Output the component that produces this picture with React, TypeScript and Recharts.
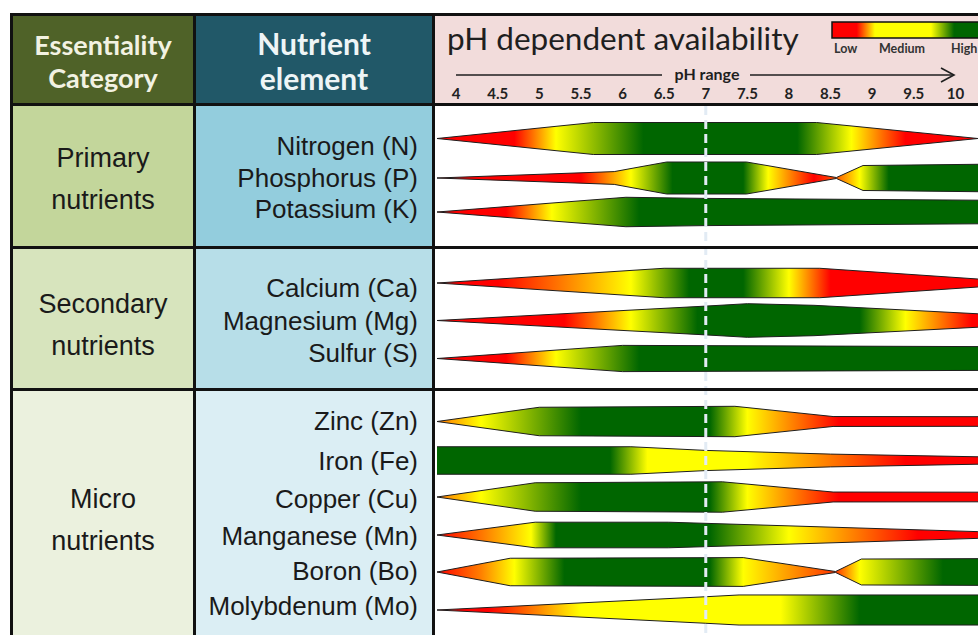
import { ComposedChart, Area, XAxis, YAxis, ReferenceLine } from 'recharts';

const PH_TICKS = [4, 4.5, 5, 5.5, 6, 6.5, 7, 7.5, 8, 8.5, 9, 9.5, 10];
const PH_MIN = 3.77;
const PH_MAX = 10.5;

const GROUPS = [
  ['Primary', 'nutrients'],
  ['Secondary', 'nutrients'],
  ['Micro', 'nutrients'],
];

const NUTRIENTS = [
  'Nitrogen (N)', 'Phosphorus (P)', 'Potassium (K)',
  'Calcium (Ca)', 'Magnesium (Mg)', 'Sulfur (S)',
  'Zinc (Zn)', 'Iron (Fe)', 'Copper (Cu)', 'Manganese (Mn)', 'Boron (Bo)', 'Molybdenum (Mo)',
];

// band thickness along the pH range: [pH, relative thickness]
const N_WIDTH = [[3.77, 0], [5.65, 1], [8.33, 1], [10.27, 0], [10.5, 0]];
const P_WIDTH = [[3.77, 0], [5.9, 0.4], [6.53, 1], [7.49, 1], [8.57, 0.03], [8.89, 0.78], [10.5, 0.87]];
const K_WIDTH = [[3.77, 0], [6.04, 0.92], [7, 0.85], [10.5, 0.73]];
const CA_WIDTH = [[3.77, 0], [6.5, 0.92], [8.37, 0.92], [10.27, 0.25], [10.5, 0.2]];
const MG_WIDTH = [[3.77, 0], [7, 0.9], [7.5, 1.05], [8.3, 0.95], [10.27, 0.42], [10.5, 0.38]];
const S_WIDTH = [[3.77, 0], [6, 0.82], [10.5, 0.74]];
const ZN_WIDTH = [[3.77, 0], [5, 0.89], [7.35, 0.95], [8.53, 0.31], [10.5, 0.3]];
const FE_WIDTH = [[3.77, 0.86], [6.1, 0.86], [7, 0.63], [8.5, 0.4], [10.5, 0.21]];
const CU_WIDTH = [[3.77, 0], [4.95, 0.89], [7.2, 0.95], [8.53, 0.31], [10.5, 0.3]];
const MN_WIDTH = [[3.77, 0], [4.95, 0.8], [6.55, 0.8], [10.27, 0.21], [10.5, 0.19]];
const BO_WIDTH = [[3.77, 0], [4.65, 0.86], [7.45, 0.9], [8.56, 0.03], [8.87, 0.81], [10.5, 0.84]];
const MO_WIDTH = [[3.77, 0], [7, 0.83], [7.4, 0.94], [10.5, 0.94]];

// availability along the pH range: [pH, level] 0 = low, 1 = medium, 2 = high
const N_LEVEL = [[3.77, 0], [4.7, 0], [5.2, 1], [6.25, 2], [8.1, 2], [8.75, 1], [9.4, 0], [10.5, 0]];
const P_LEVEL = [[3.77, 0], [5.5, 0], [6.1, 1], [6.6, 2], [7.45, 2], [7.75, 1], [8.3, 0], [8.57, 0.35], [8.85, 1], [9.2, 2], [10.5, 2]];
const K_LEVEL = [[3.77, 0], [4.6, 0], [5.15, 1], [6.2, 2], [10.5, 2]];
const CA_LEVEL = [[3.77, 0], [4.5, 0], [6.1, 1], [6.8, 2], [7.45, 2], [8, 1], [8.5, 0], [10.5, 0]];
const MG_LEVEL = [[3.77, 0], [5.3, 0], [6.1, 1], [6.9, 2], [8.85, 2], [9.4, 1], [10.2, 0], [10.5, 0]];
const S_LEVEL = [[3.77, 0], [4.6, 0], [5.2, 1], [6.2, 2], [10.5, 2]];
const ZN_LEVEL = [[3.77, 0.45], [4.3, 1], [5.5, 2], [7.05, 2], [7.5, 1], [8.6, 0], [10.5, 0]];
const FE_LEVEL = [[3.77, 2], [5.85, 2], [6.3, 1], [7.5, 1], [9.4, 0], [10.5, 0]];
const CU_LEVEL = [[3.77, 0.45], [4.3, 1], [5.5, 2], [7.05, 2], [7.5, 1], [8.6, 0], [10.5, 0]];
const MN_LEVEL = [[3.77, 0], [4.35, 0.5], [4.9, 1], [5.2, 2], [7.05, 2], [8, 1], [9.55, 0], [10.5, 0]];
const BO_LEVEL = [[3.77, 0], [4.3, 0.5], [4.7, 1], [5.3, 2], [7.05, 2], [7.45, 1], [8.56, 0.2], [8.85, 1], [9.85, 2], [10.5, 2]];
const MO_LEVEL = [[3.77, 0], [4.4, 0], [5.5, 1], [7.9, 1], [8.85, 2], [10.5, 2]];

const LEGEND_LEVEL = [[0, 0], [0.15, 0], [0.26, 1], [0.6, 1], [0.74, 2], [1, 2]];

const WIDTHS = [N_WIDTH, P_WIDTH, K_WIDTH, CA_WIDTH, MG_WIDTH, S_WIDTH, ZN_WIDTH, FE_WIDTH, CU_WIDTH, MN_WIDTH, BO_WIDTH, MO_WIDTH];
const LEVELS = [N_LEVEL, P_LEVEL, K_LEVEL, CA_LEVEL, MG_LEVEL, S_LEVEL, ZN_LEVEL, FE_LEVEL, CU_LEVEL, MN_LEVEL, BO_LEVEL, MO_LEVEL];

// layout (page px)
const BODY_TOP = 106;
const AXIS_H = 32;
const PLOT_H = 554;
const HALF = 16;
const ROW_Y = [138.5, 178, 212, 283, 320.5, 358.5, 421.5, 460.5, 497, 535, 572, 610];
const LABEL_BASE = [155, 187, 218, 297, 330, 362, 430, 470, 508, 545, 580, 615];
const GROUP_BASE = [167, 313, 508];
const GROUP_BOX = [[106, 140], [249, 139], [391, 250]];
const COL1_BG = ['#c3d69b', '#d7e4bd', '#ebf1de'];
const COL2_BG = ['#93cddd', '#b7dee8', '#dbeef4'];

const SANS = '"Liberation Sans", Arial, sans-serif';
const LATO = 'Lato, "Open Sans", sans-serif';

function levelColor(l: number) {
  const RED = [255, 0, 0];
  const YEL = [255, 255, 0];
  const GRN = [0, 102, 0];
  const [a, b, t] = l <= 1 ? [RED, YEL, l] : [YEL, GRN, l - 1];
  return `rgb(${a.map((v, k) => Math.round(v + (b[k] - v) * t)).join(',')})`;
}

function bandData(i: number) {
  const c = ROW_Y[i] - BODY_TOP;
  return WIDTHS[i].map(([ph, w]) => ({ ph, band: [c - w * HALF, c + w * HALF] }));
}

export default function App() {
  return (
    <div style={{ position: 'absolute', left: 0, top: 0, width: 978, height: 635, overflow: 'hidden', background: '#fff' }}>
      <svg width={978} height={635} style={{ position: 'absolute', left: 0, top: 0 }}>
        <defs>
          <linearGradient id="legend" x1="0" x2="1" y1="0" y2="0">
            {LEGEND_LEVEL.map(([o, l], k) => <stop key={k} offset={o} stopColor={levelColor(l)} />)}
          </linearGradient>
        </defs>
        <rect x={13} y={16} width={180} height={87} fill="#4f6228" />
        <rect x={196} y={16} width={236} height={87} fill="#215868" />
        <rect x={435} y={16} width={543} height={87} fill="#f2dcdb" />
        {GROUP_BOX.map(([y, h], g) => (
          <g key={g}>
            <rect x={13} y={y} width={180} height={h} fill={COL1_BG[g]} />
            <rect x={196} y={y} width={236} height={h} fill={COL2_BG[g]} />
          </g>
        ))}

        <g fontFamily={LATO} fontWeight="bold" textAnchor="middle">
          <text x={103} y={55} fontSize={27} fill="#f2f2e2">Essentiality</text>
          <text x={103} y={88} fontSize={27} fill="#f2f2e2">Category</text>
          <text x={314} y={55} fontSize={30} fill="#eef5f6">Nutrient</text>
          <text x={314} y={90} fontSize={30} fill="#eef5f6">element</text>
        </g>

        <text x={447} y={50} fontFamily={LATO} fontSize={31.5} fill="#1f1f1f">pH dependent availability</text>
        <rect x={832} y={22} width={165} height={16} fill="url(#legend)" stroke="#111" strokeWidth={1.5} />
        <g fontFamily={LATO} fontWeight="bold" fontSize={12.5} fill="#333">
          <text x={834} y={53}>Low</text>
          <text x={879} y={53}>Medium</text>
          <text x={951} y={53}>High</text>
        </g>
        <line x1={456} y1={75} x2={662} y2={75} stroke="#1f1f1f" strokeWidth={1.5} />
        <text x={707} y={80} textAnchor="middle" fontFamily={LATO} fontWeight="bold" fontSize={16} fill="#1f1f1f">pH range</text>
        <line x1={750} y1={75} x2={954} y2={75} stroke="#1f1f1f" strokeWidth={1.5} />
        <path d="M 941 68 L 954 75 L 941 82" fill="none" stroke="#1f1f1f" strokeWidth={1.6} />

        <g fontFamily={SANS} fontSize={27} fill="#1a1a1a" textAnchor="middle">
          {GROUPS.map((lines, g) => (
            <text key={g} x={103} y={GROUP_BASE[g]}>
              {lines.map((s, k) => <tspan key={k} x={103} dy={k === 0 ? 0 : 42}>{s}</tspan>)}
            </text>
          ))}
        </g>
        <g fontFamily={SANS} fontSize={26} fill="#1a1a1a" textAnchor="end">
          {NUTRIENTS.map((n, i) => <text key={n} x={418} y={LABEL_BASE[i]}>{n}</text>)}
        </g>
      </svg>

      <div style={{ position: 'absolute', left: 437, top: BODY_TOP - AXIS_H }}>
        <ComposedChart width={560} height={PLOT_H + AXIS_H} margin={{ top: 0, right: 0, bottom: 0, left: 0 }}>
          <defs>
            {LEVELS.map((lv, i) => (
              <linearGradient key={i} id={`avail-${i}`} x1="0" x2="1" y1="0" y2="0">
                {lv.map(([ph, l], k) => (
                  <stop key={k} offset={(ph - PH_MIN) / (PH_MAX - PH_MIN)} stopColor={levelColor(l)} />
                ))}
              </linearGradient>
            ))}
          </defs>
          <XAxis
            type="number"
            dataKey="ph"
            orientation="top"
            domain={[PH_MIN, PH_MAX]}
            ticks={PH_TICKS}
            interval={0}
            height={AXIS_H}
            axisLine={false}
            tickLine={false}
            tickMargin={1}
            allowDataOverflow
            tick={{ fill: '#222', fontSize: 15, fontWeight: 'bold', fontFamily: LATO }}
          />
          <YAxis type="number" hide domain={[0, PLOT_H]} reversed allowDataOverflow />
          {NUTRIENTS.map((n, i) => (
            <Area
              key={n}
              data={bandData(i)}
              dataKey="band"
              type="linear"
              fill={`url(#avail-${i})`}
              fillOpacity={1}
              stroke="#1e1e1e"
              strokeWidth={1}
              dot={false}
              activeDot={false}
              isAnimationActive={false}
            />
          ))}
          <ReferenceLine x={7} stroke="#e2ebf4" strokeWidth={3} strokeDasharray="9 5" />
        </ComposedChart>
      </div>

      <svg width={978} height={635} style={{ position: 'absolute', left: 0, top: 0, pointerEvents: 'none' }}>
        <g fill="#111">
          <rect x={10} y={13} width={968} height={3} />
          <rect x={10} y={13} width={3} height={622} />
          <rect x={193} y={13} width={3} height={622} />
          <rect x={432} y={13} width={3} height={622} />
          <rect x={10} y={103} width={968} height={3} />
          <rect x={10} y={246} width={968} height={3} />
          <rect x={10} y={388} width={968} height={3} />
        </g>
      </svg>
    </div>
  );
}
